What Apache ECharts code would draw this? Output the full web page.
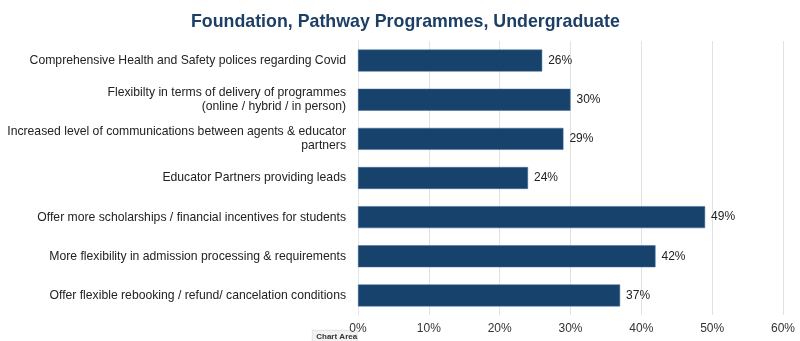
<!DOCTYPE html>
<html>
<head>
<meta charset="utf-8">
<script src="https://cdn.jsdelivr.net/npm/echarts@6/dist/echarts.min.js"></script>
<style>
  html, body { margin: 0; padding: 0; background: #fff; }
  #chart { width: 800px; height: 341px; }
</style>
</head>
<body>
<div id="chart"></div>
<script>
// Survey responses, listed top to bottom
const categories = [
  'Comprehensive Health and Safety polices regarding Covid',
  'Flexibilty in terms of delivery of programmes\n(online / hybrid / in person)',
  'Increased level of communications between agents & educator\npartners',
  'Educator Partners providing leads',
  'Offer more scholarships / financial incentives for students',
  'More flexibility in admission processing & requirements',
  'Offer flexible rebooking / refund/ cancelation conditions'
];
const shares = [26, 30, 29, 24, 49, 42, 37];
const axisTicks = [0, 10, 20, 30, 40, 50, 60];

const FONT = 'Liberation Sans, Arial, sans-serif';
const chart = echarts.init(document.getElementById('chart'), null, { renderer: 'canvas' });

chart.setOption({
  animation: false,
  backgroundColor: '#ffffff',
  title: {
    text: 'Foundation, Pathway Programmes, Undergraduate',
    left: 186,
    top: 8,
    textStyle: { fontFamily: FONT, fontSize: 17.8, fontWeight: 'bold', color: '#1c3f66' }
  },
  grid: { left: 358, right: 17, top: 41, bottom: 26, containLabel: false },
  xAxis: {
    type: 'value',
    min: axisTicks[0],
    max: axisTicks[axisTicks.length - 1],
    interval: 10,
    axisLine: { show: false },
    axisTick: { show: false },
    splitLine: { show: true, lineStyle: { color: '#e2e2e2', width: 1 } },
    axisLabel: { formatter: v => v + '%', color: '#333', fontSize: 12, fontFamily: FONT, margin: 8 }
  },
  yAxis: {
    type: 'category',
    data: categories,
    inverse: true,
    axisLine: { show: true, lineStyle: { color: '#e6e6e6' } },
    axisTick: { show: false },
    axisLabel: { color: '#222', fontSize: 12.2, fontFamily: FONT, margin: 12, lineHeight: 14, align: 'right' }
  },
  series: [{
    type: 'bar',
    data: shares,
    barCategoryGap: '44%',
    itemStyle: { color: '#17426b', borderColor: '#3f6d9c', borderWidth: 0.5 },
    label: {
      show: true,
      position: 'right',
      distance: 6,
      formatter: p => p.value + '%',
      color: '#222',
      fontSize: 12,
      fontFamily: FONT
    }
  }],
  graphic: [{
    type: 'group',
    left: 312,
    top: 330,
    children: [
      { type: 'rect', shape: { x: 0, y: 0, width: 45, height: 13 },
        style: { fill: '#f2f2f2', stroke: '#c8c8c8', lineWidth: 0.5 } },
      { type: 'text', x: 4, y: 3,
        style: { text: 'Chart Area', fontSize: 8, fontWeight: 'bold', fontFamily: FONT, fill: '#333' } }
    ]
  }]
});
</script>
</body>
</html>
